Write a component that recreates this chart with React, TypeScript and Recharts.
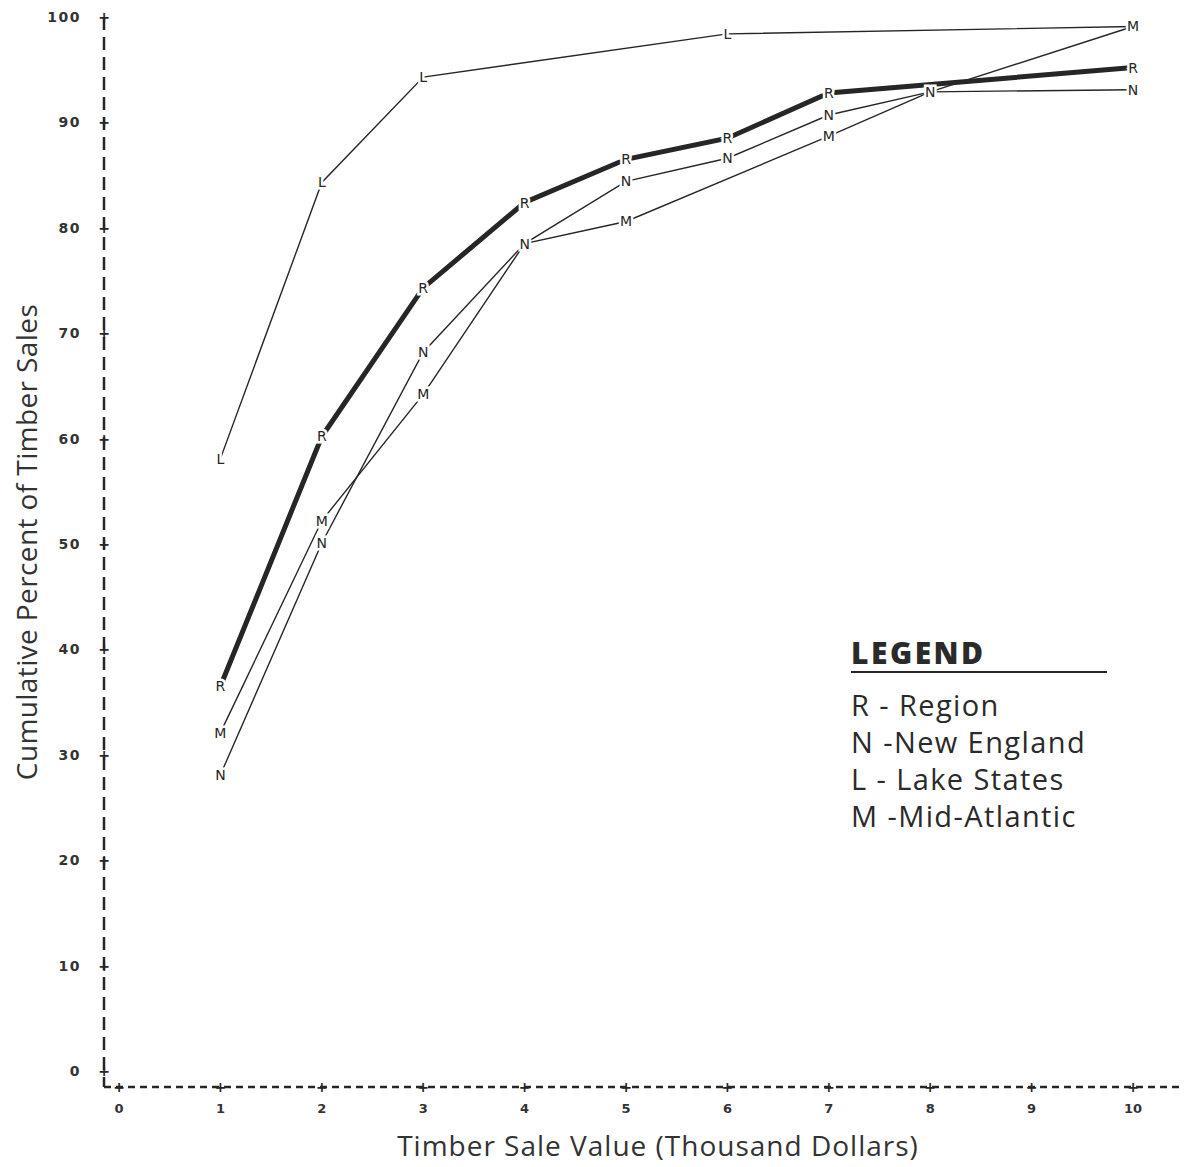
import { LineChart, Line, XAxis, YAxis, Label } from "recharts";

// x = timber sale value (thousand dollars)
const saleValues = [1, 2, 3, 4, 5, 6, 7, 8, 10];
// cumulative percent of timber sales, null where no point was plotted
const region = [36.5, 60.2, 74.3, 82.4, 86.5, 88.5, 92.8, null, 95.2];
const newEngland = [28.1, 50.1, 68.2, 78.5, 84.4, 86.6, 90.7, 92.9, 93.1];
const lakeStates = [58.1, 84.3, 94.3, null, null, 98.4, null, null, 99.1];
const midAtlantic = [32.1, 52.2, 64.2, 78.5, 80.6, null, 88.7, 92.9, 99.1];

const xTicks = [0, 1, 2, 3, 4, 5, 6, 7, 8, 9, 10];
const yTicks = [0, 10, 20, 30, 40, 50, 60, 70, 80, 90, 100];

const legendItems = [
  "R - Region",
  "N -New England",
  "L - Lake States",
  "M -Mid-Atlantic",
];

// letters hidden where another series' letter sits on the same spot
const hiddenMarks: Record<string, number[]> = { M: [4, 8], L: [10] };

const data = saleValues.map((v, i) => ({
  value: v,
  R: region[i],
  N: newEngland[i],
  L: lakeStates[i],
  M: midAtlantic[i],
}));

const INK = "#262626";

const letterDot = (letter: string) => (props: any) => {
  const { cx, cy, payload, value } = props;
  if (value == null || cx == null || cy == null) return <g key={`${letter}-${props.index}`} />;
  if ((hiddenMarks[letter] || []).includes(payload.value)) return <g key={`${letter}-${props.index}`} />;
  return (
    <text
      key={`${letter}-${props.index}`}
      x={cx}
      y={cy}
      dy={5}
      textAnchor="middle"
      fontFamily="'DejaVu Sans', sans-serif"
      fontSize={14}
      fill={INK}
      stroke="#fff"
      strokeWidth={5}
      paintOrder="stroke"
    >
      {letter}
    </text>
  );
};

const YTick = (props: any) => {
  const { payload } = props;
  const y = props.y;
  return (
    <g>
      <text x={96} y={y} dy={5} textAnchor="middle" fontSize={14} fontWeight="bold" fill={INK} fontFamily="'DejaVu Sans', sans-serif">+</text>
      <text x={73} y={y} dy={5} textAnchor="end" fontSize={14} fontWeight="bold" letterSpacing={1.5} fill="#333" fontFamily="'DejaVu Sans', sans-serif">
        {payload.value}
      </text>
    </g>
  );
};

const XTick = (props: any) => {
  const { payload, x } = props;
  return (
    <g>
      <text x={x} y={1079} dy={5} textAnchor="middle" fontSize={14} fontWeight="bold" fill={INK} fontFamily="'DejaVu Sans', sans-serif">+</text>
      <text x={x} y={1100} dy={5} textAnchor="middle" fontSize={13} fontWeight="bold" fill="#333" fontFamily="'DejaVu Sans', sans-serif">
        {payload.value}
      </text>
    </g>
  );
};

const labelFont = "'Open Sans', Lato, sans-serif";

const App = () => {
  return (
    <div style={{ position: "relative", width: 1180, height: 1159, background: "#fff" }}>
      <LineChart width={1180} height={1159} data={data} margin={{ top: 9, right: 8, bottom: 0, left: 0 }}>
        <XAxis
          dataKey="value"
          type="number"
          domain={[-0.148, 10.463]}
          ticks={xTicks}
          allowDataOverflow
          height={80}
          tickLine={false}
          axisLine={{ stroke: INK, strokeWidth: 2.5, strokeDasharray: "7 5" }}
          tick={<XTick />}
        >
          <Label
            content={() => (
              <text x={650} y={1148} textAnchor="middle" fontSize={28} letterSpacing={1} fill="#333" fontFamily={labelFont}>
                Timber Sale Value (Thousand Dollars)
              </text>
            )}
          />
        </XAxis>
        <YAxis
          type="number"
          domain={[-1.52, 100]}
          ticks={yTicks}
          allowDataOverflow
          width={96}
          tickLine={false}
          axisLine={{ stroke: INK, strokeWidth: 2.5, strokeDasharray: "13 7" }}
          tick={<YTick />}
        >
          <Label
            content={() => (
              <text
                x={19}
                y={534}
                textAnchor="middle"
                fontSize={28}
                letterSpacing={0.4}
                fill="#333"
                fontFamily={labelFont}
                transform="rotate(-90 19 534)"
                dy={10}
              >
                Cumulative Percent of Timber Sales
              </text>
            )}
          />
        </YAxis>
        <Line dataKey="L" stroke={INK} strokeWidth={1.4} connectNulls dot={letterDot("L")} isAnimationActive={false} />
        <Line dataKey="M" stroke={INK} strokeWidth={1.4} connectNulls dot={letterDot("M")} isAnimationActive={false} />
        <Line dataKey="N" stroke={INK} strokeWidth={1.4} connectNulls dot={letterDot("N")} isAnimationActive={false} />
        <Line dataKey="R" stroke={INK} strokeWidth={5} connectNulls dot={letterDot("R")} isAnimationActive={false} />
      </LineChart>
      <div style={{ position: "absolute", left: 843, top: 627, fontFamily: labelFont, color: "#2a2a2a" }}>
        <div style={{ fontSize: 30, fontWeight: 800, letterSpacing: 2.5, lineHeight: "36px", width: 256, borderBottom: `2.5px solid ${INK}`, paddingBottom: 0 }}>
          LEGEND
        </div>
        <div style={{ marginTop: 13 }}>
          {legendItems.map((t) => (
            <div key={t} style={{ fontSize: 29, lineHeight: "37px", letterSpacing: 1.4, whiteSpace: "pre" }}>
              {t}
            </div>
          ))}
        </div>
      </div>
    </div>
  );
};

export default App;
